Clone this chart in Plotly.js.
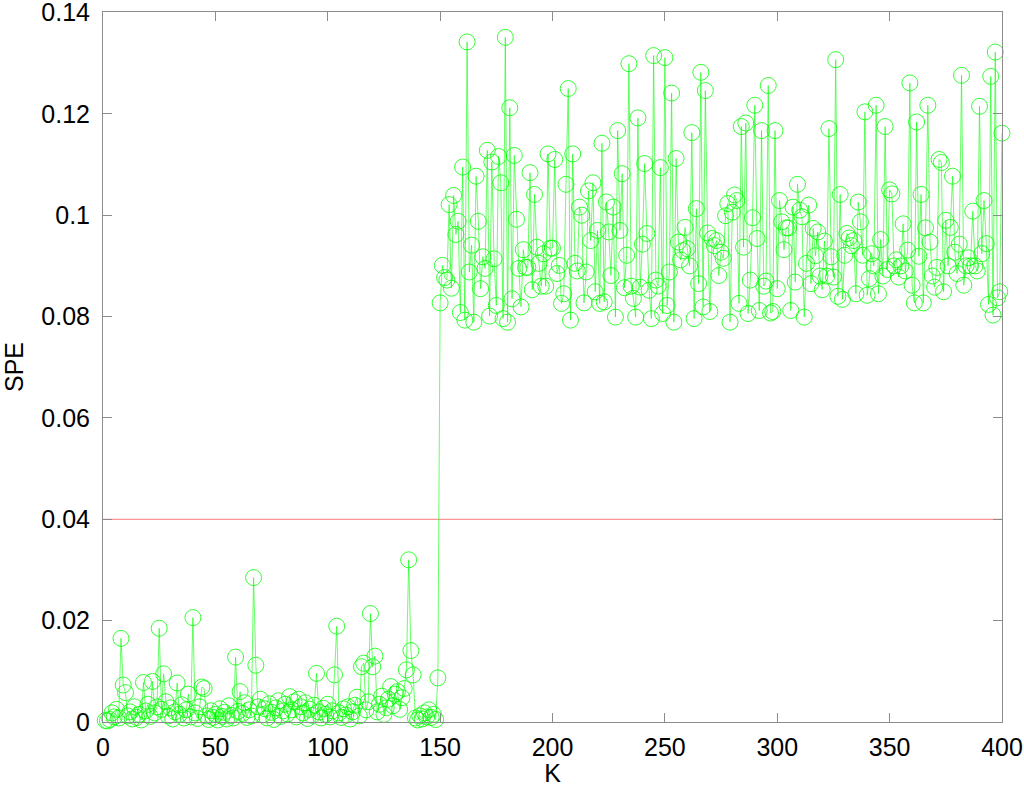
<!DOCTYPE html>
<html>
<head>
<meta charset="utf-8">
<script src="https://cdn.plot.ly/plotly-3.0.1.min.js"></script>
<style>
  html, body { margin: 0; padding: 0; background: #ffffff; }
  #chart { width: 1024px; height: 787px; }
</style>
</head>
<body>
<div id="chart"></div>
<script>
// SPE statistic for samples K = 1..149 (normal operation)
var speNormal = [
  0.0003, 0.0002, 0.0005, 0.0018, 0.0010, 0.0025, 0.0008, 0.0165, 0.0073, 0.0058,
  0.0012, 0.0020, 0.0006, 0.0030, 0.0009, 0.0015, 0.0004, 0.0078, 0.0022, 0.0035,
  0.0011, 0.0080, 0.0018, 0.0030, 0.0185, 0.0025, 0.0095, 0.0040, 0.0012, 0.0028,
  0.0006, 0.0020, 0.0077, 0.0015, 0.0034, 0.0008, 0.0024, 0.0055, 0.0010, 0.0206,
  0.0018, 0.0007, 0.0030, 0.0069, 0.0066, 0.0012, 0.0005, 0.0022, 0.0009, 0.0015,
  0.0004, 0.0026, 0.0011, 0.0019, 0.0006, 0.0032, 0.0013, 0.0008, 0.0128, 0.0021,
  0.0060, 0.0017, 0.0038, 0.0009, 0.0024, 0.0012, 0.0285, 0.0112, 0.0030, 0.0045,
  0.0014, 0.0026, 0.0008, 0.0036, 0.0019, 0.0005, 0.0028, 0.0042, 0.0011, 0.0022,
  0.0035, 0.0016, 0.0050, 0.0024, 0.0040, 0.0010, 0.0045, 0.0030, 0.0018, 0.0038,
  0.0007, 0.0025, 0.0013, 0.0033, 0.0096, 0.0020, 0.0008, 0.0027, 0.0015, 0.0035,
  0.0010, 0.0022, 0.0093, 0.0189, 0.0018, 0.0009, 0.0026, 0.0014, 0.0030, 0.0006,
  0.0020, 0.0033, 0.0049, 0.0012, 0.0109, 0.0116, 0.0024, 0.0040, 0.0214, 0.0109,
  0.0130, 0.0020, 0.0035, 0.0051, 0.0015, 0.0028, 0.0045, 0.0070, 0.0032, 0.0055,
  0.0060, 0.0025, 0.0048, 0.0066, 0.0103, 0.0320, 0.0141, 0.0093, 0.0008, 0.0004,
  0.0012, 0.0006, 0.0018, 0.0010, 0.0024, 0.0009, 0.0015, 0.0005, 0.0087
];
// SPE statistic for samples K = 150..400 (after fault)
var speFault = [
  0.0827, 0.0901, 0.0877, 0.0872, 0.1021, 0.0856, 0.1039, 0.0962, 0.0988, 0.0808,
  0.1095, 0.0793, 0.1342, 0.0888, 0.0941, 0.0789, 0.1077, 0.0988, 0.0855, 0.0918,
  0.0895, 0.1128, 0.0801, 0.1105, 0.0914, 0.0822, 0.1116, 0.1064, 0.0796, 0.1351,
  0.0789, 0.1212, 0.0835, 0.1118, 0.0992, 0.0895, 0.0819, 0.0932, 0.0897, 0.0897,
  0.1084, 0.0853, 0.1041, 0.0937, 0.0905, 0.0860, 0.0924, 0.0860, 0.1121, 0.0935,
  0.0935, 0.1110, 0.0885, 0.0901, 0.0826, 0.0845, 0.1061, 0.1250, 0.0793, 0.1121,
  0.0905, 0.0890, 0.1016, 0.1000, 0.0827, 0.0888, 0.1048, 0.0950, 0.1064, 0.0849,
  0.0970, 0.0826, 0.1142, 0.0829, 0.1026, 0.0967, 0.0881, 0.1016, 0.0799, 0.1167,
  0.0970, 0.1082, 0.0857, 0.0921, 0.1299, 0.0860, 0.0836, 0.0799, 0.1192, 0.0858,
  0.0943, 0.1102, 0.0964, 0.0852, 0.0796, 0.1315, 0.0872, 0.0860, 0.1094, 0.0806,
  0.1311, 0.0822, 0.0888, 0.1241, 0.0789, 0.1112, 0.0947, 0.0912, 0.0930, 0.0976,
  0.0934, 0.0900, 0.1163, 0.0796, 0.1013, 0.0865, 0.1282, 0.0819, 0.1246, 0.0965,
  0.0810, 0.0954, 0.0940, 0.0950, 0.0881, 0.0927, 0.0915, 0.0999, 0.1023, 0.0789,
  0.1006, 0.1040, 0.1029, 0.0826, 0.1175, 0.0937, 0.1182, 0.0806, 0.0872, 0.0995,
  0.1217, 0.0954, 0.0812, 0.1167, 0.0860, 0.0870, 0.1256, 0.0807, 0.0810, 0.1167,
  0.0855, 0.1029, 0.0987, 0.0932, 0.0975, 0.0975, 0.0812, 0.1016, 0.0868, 0.1061,
  0.1010, 0.0997, 0.0799, 0.0905, 0.1020, 0.0865, 0.0974, 0.0920, 0.0967, 0.0880,
  0.0853, 0.0949, 0.0880, 0.1171, 0.0918, 0.0878, 0.1307, 0.0840, 0.1041, 0.0834,
  0.0921, 0.0964, 0.0955, 0.0940, 0.0950, 0.0845, 0.1026, 0.0987, 0.0921, 0.1204,
  0.0842, 0.0875, 0.0924, 0.0900, 0.1217, 0.0845, 0.0952, 0.0880, 0.1175, 0.0893,
  0.1050, 0.1042, 0.0900, 0.0912, 0.0878, 0.0900, 0.0983, 0.0890, 0.0931, 0.1261,
  0.0862, 0.0827, 0.1184, 0.0919, 0.1041, 0.0827, 0.0975, 0.1217, 0.0947, 0.0880,
  0.0858, 0.0897, 0.1110, 0.1104, 0.0849, 0.0990, 0.0900, 0.0976, 0.1077, 0.0927,
  0.0885, 0.0943, 0.1276, 0.0862, 0.0900, 0.0916, 0.0900, 0.1008, 0.0900, 0.0890,
  0.1215, 0.0924, 0.1029, 0.0944, 0.0824, 0.1274, 0.0803, 0.1322, 0.0837, 0.0849,
  0.1162
];
var speAll = speNormal.concat(speFault);

// control limit
var limitK = [0, 400];
var limitSPE = [0.04, 0.04];

var xTicks = [0, 50, 100, 150, 200, 250, 300, 350, 400];
var yTicks = [0, 0.02, 0.04, 0.06, 0.08, 0.1, 0.12, 0.14];
var yTickText = ['0', '0.02', '0.04', '0.06', '0.08', '0.1', '0.12', '0.14'];

var green = 'rgb(0,255,0)';
var axisGray = 'rgb(140,140,140)';

var traces = [
  {
    type: 'scatter',
    mode: 'lines',
    x: limitK,
    y: limitSPE,
    line: { color: 'rgb(255,120,120)', width: 1 },
    hoverinfo: 'skip',
    showlegend: false
  },
  {
    type: 'scatter',
    mode: 'lines+markers',
    x0: 1,
    dx: 1,
    y: speAll,
    cliponaxis: false,
    line: { color: green, width: 0.6 },
    marker: {
      symbol: 'circle-open',
      size: 16,
      color: green,
      line: { color: green, width: 0.8 }
    },
    showlegend: false
  }
];

var fontFam = 'Arial, "Liberation Sans", Helvetica, sans-serif';

var layout = {
  width: 1024,
  height: 787,
  paper_bgcolor: '#ffffff',
  plot_bgcolor: '#ffffff',
  margin: { l: 103, r: 22, t: 12, b: 65, pad: 0 },
  showlegend: false,
  font: { family: fontFam, color: '#000000', size: 25 },
  xaxis: {
    range: [0, 400],
    tickmode: 'array',
    tickvals: xTicks,
    ticks: 'inside',
    ticklen: 9,
    tickwidth: 1,
    tickcolor: axisGray,
    showline: true,
    linecolor: axisGray,
    linewidth: 1,
    mirror: 'ticks',
    showgrid: false,
    zeroline: false,
    tickfont: { family: fontFam, size: 25, color: '#000000' },
    ticklabelstandoff: 3,
    title: { text: 'K', font: { family: fontFam, size: 25, color: '#000000' }, standoff: 10 },
    automargin: false
  },
  yaxis: {
    range: [0, 0.1401],
    tickmode: 'array',
    tickvals: yTicks,
    ticktext: yTickText,
    ticks: 'inside',
    ticklen: 9,
    tickwidth: 1,
    tickcolor: axisGray,
    showline: true,
    linecolor: axisGray,
    linewidth: 1,
    mirror: 'ticks',
    showgrid: false,
    zeroline: false,
    tickfont: { family: fontFam, size: 25, color: '#000000' },
    ticklabelstandoff: 7,
    ticklabeloverflow: 'allow',
    title: { text: 'SPE', font: { family: fontFam, size: 25, color: '#000000' }, standoff: 14 },
    automargin: false
  }
};

Plotly.newPlot('chart', traces, layout, { displayModeBar: false, staticPlot: true });
</script>
</body>
</html>
